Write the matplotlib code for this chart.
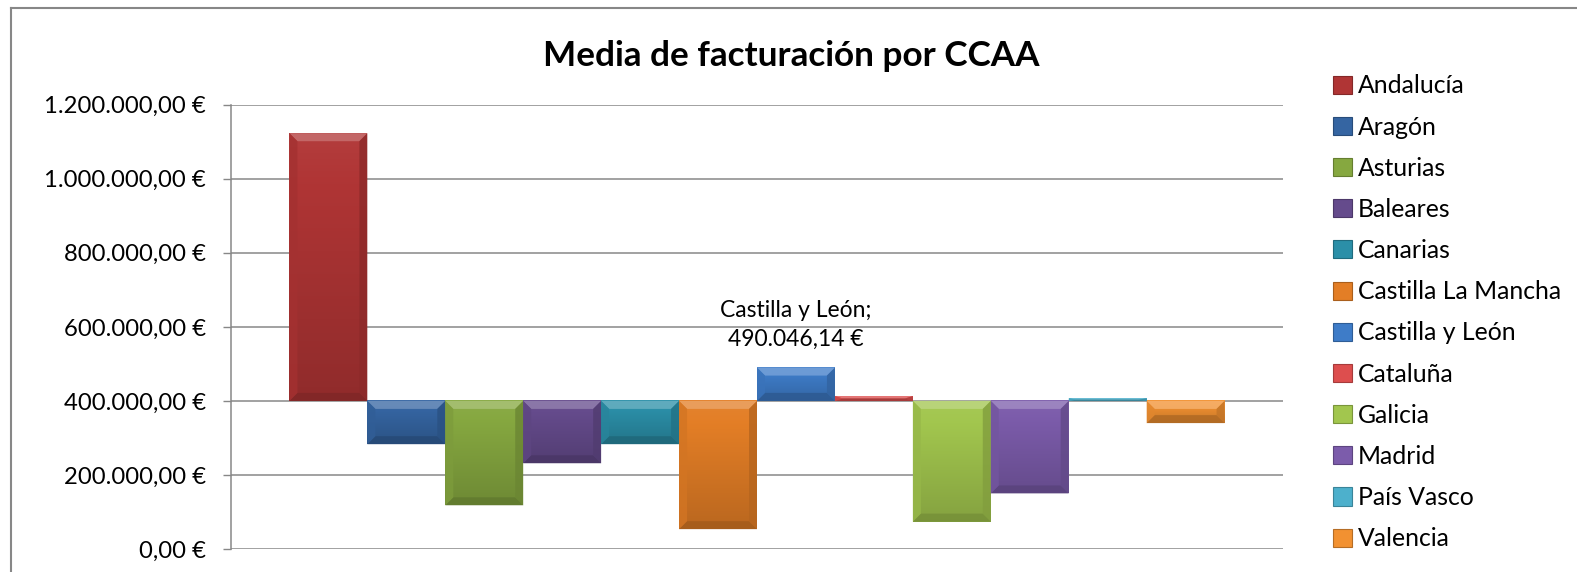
import numpy as np
import matplotlib.pyplot as plt
from matplotlib.patches import Polygon, Rectangle
from matplotlib.lines import Line2D
from matplotlib.colors import to_rgb
from matplotlib.ticker import FuncFormatter

plt.rcParams['font.family'] = ['Lato', 'DejaVu Sans']

# Average billing per autonomous community (euros)
regions = ["Andalucía", "Aragón", "Asturias", "Baleares", "Canarias",
           "Castilla La Mancha", "Castilla y León", "Cataluña", "Galicia",
           "Madrid", "País Vasco", "Valencia"]
average_billing = [1123000, 283000, 118000, 231500, 283000, 53600,
                   490046.14, 413000, 74000, 150000, 407000, 340000]
bar_colors = ["#B03535", "#3565A2", "#86A840", "#654B8C", "#2B8FA8", "#E37E26",
              "#3E7CC8", "#DD4E4E", "#A2C64E", "#7C5CAB", "#4DB0CC", "#F29131"]
y_ticks = [0, 200000, 400000, 600000, 800000, 1000000, 1200000]
baseline = 400000
labelled_region = "Castilla y León"

grid_gray = "#878787"


def euro(value, pos=None):
    s = "{:,.2f}".format(value)
    s = s.replace(",", "X").replace(".", ",").replace("X", ".")
    return s + " €"


def shade(color, factor):
    c = np.array(to_rgb(color))
    if factor >= 1:
        c = c + (1 - c) * (factor - 1)
    else:
        c = c * factor
    return tuple(np.clip(c, 0, 1))


fig = plt.figure(figsize=(15.77, 5.72), dpi=100)
W, H = 1577, 572
ax = fig.add_axes([231 / W, 23 / H, (1283 - 231) / W, (549 - 104.7) / H])

x = np.arange(len(regions))
heights = [v - baseline for v in average_billing]
bars = ax.bar(x, heights, width=1.0, bottom=baseline, color=bar_colors,
              linewidth=0, zorder=2)

ax.set_xlim(-1.25, len(regions) + 0.25)
ax.set_ylim(y_ticks[0], y_ticks[-1])

# data units per pixel, used for the bevel size
bbox = ax.get_position()
dx = (ax.get_xlim()[1] - ax.get_xlim()[0]) / (bbox.width * W)
dy = (ax.get_ylim()[1] - ax.get_ylim()[0]) / (bbox.height * H)
bevel = 8

for patch, col in zip(bars, bar_colors):
    x0 = patch.get_x()
    x1 = x0 + patch.get_width()
    y0 = min(patch.get_y(), patch.get_y() + patch.get_height())
    y1 = max(patch.get_y(), patch.get_y() + patch.get_height())

    # vertical gradient body
    grad = np.linspace(1.04, 0.82, 64)
    img = np.array([[shade(col, g)] for g in grad])
    ax.imshow(img, extent=[x0, x1, y0, y1], aspect='auto',
              interpolation='bilinear', zorder=2.1)

    bx = min(bevel * dx, (x1 - x0) / 2)
    by = min(bevel * dy, (y1 - y0) / 2)
    faces = [
        ([(x0, y1), (x1, y1), (x1 - bx, y1 - by), (x0 + bx, y1 - by)], 1.3),
        ([(x0, y0), (x1, y0), (x1 - bx, y0 + by), (x0 + bx, y0 + by)], 0.72),
        ([(x0, y0), (x0, y1), (x0 + bx, y1 - by), (x0 + bx, y0 + by)], 0.93),
        ([(x1, y0), (x1, y1), (x1 - bx, y1 - by), (x1 - bx, y0 + by)], 0.8),
    ]
    for pts, f in faces:
        ax.add_patch(Polygon(pts, closed=True, facecolor=shade(col, f),
                             edgecolor='none', alpha=0.8, zorder=2.2))

ax.set_aspect('auto')
ax.set_xlim(-1.25, len(regions) + 0.25)
ax.set_ylim(y_ticks[0], y_ticks[-1])

# value label on one bar
i = regions.index(labelled_region)
value = average_billing[i]
ax.annotate("{};\n{}".format(labelled_region, euro(value)),
            xy=(x[i], value), xytext=(0, 13), textcoords='offset points',
            ha='center', va='bottom', fontsize=16.5, linespacing=1.45,
            color='black', zorder=5)

ax.set_yticks(y_ticks)
ax.yaxis.set_major_formatter(FuncFormatter(euro))
ax.set_xticks([])
ax.yaxis.grid(True, color=grid_gray, linewidth=1.1)
ax.set_axisbelow(True)
ax.tick_params(axis='y', length=6, width=1, color=grid_gray, pad=12,
               labelsize=17.2)
for side in ['top', 'right', 'bottom']:
    ax.spines[side].set_visible(False)
ax.spines['left'].set_color(grid_gray)
ax.spines['left'].set_linewidth(1.1)

fig.text(791 / W, 1 - 56 / H, "Media de facturación por CCAA",
         ha='center', va='center', fontsize=25.3, fontweight='bold')

handles = [Rectangle((0, 0), 1, 1, facecolor=c, edgecolor=shade(c, 0.75),
                     linewidth=0.8) for c in bar_colors]
fig.legend(handles, regions, loc='upper left',
           bbox_to_anchor=(1321 / W, 1 - 62 / H), frameon=False,
           fontsize=17.8, borderpad=0, handlelength=0.75, handleheight=0.75,
           handletextpad=0.25, labelspacing=0.735)

# chart area border
fig.add_artist(Line2D([11 / W, 1], [1 - 8 / H, 1 - 8 / H], color=grid_gray,
                      linewidth=1.5, transform=fig.transFigure))
fig.add_artist(Line2D([11 / W, 11 / W], [0, 1 - 8 / H], color=grid_gray,
                      linewidth=1.5, transform=fig.transFigure))

fig.savefig("out.png", dpi=100)
